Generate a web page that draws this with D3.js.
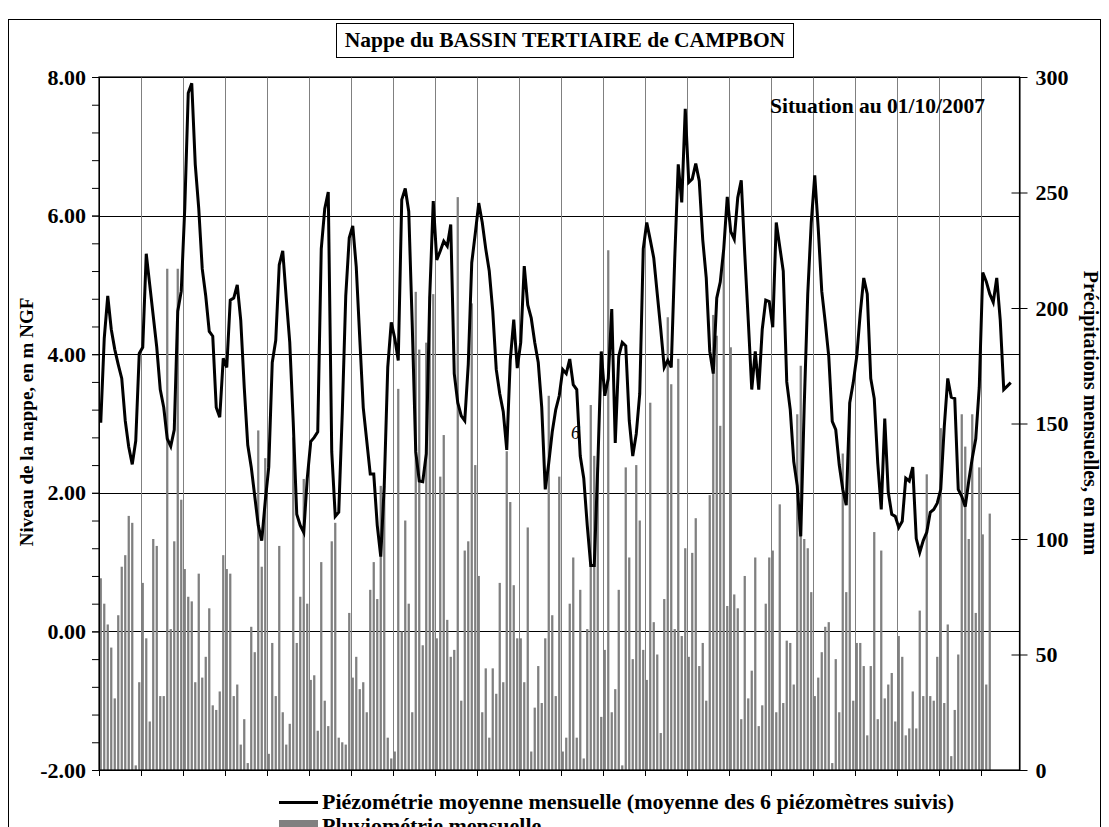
<!DOCTYPE html>
<html>
<head>
<meta charset="utf-8">
<script src="https://cdn.jsdelivr.net/npm/d3@7"></script>
<style>
  body { margin: 0; background: #fff; }
  svg { display: block; }
  text { font-family: "Liberation Serif", "Times New Roman", serif; font-weight: bold; fill: #000; }
</style>
</head>
<body>
<div id="graphe"></div>
<script>
// Données (piézométrie en m NGF, pluie en mm)
const titre = "Nappe du BASSIN TERTIAIRE de CAMPBON";
const situation = "Situation au 01/10/2007";
const legendeNiveau = "Piézométrie moyenne mensuelle (moyenne des 6 piézomètres suivis)";
const legendePluie = "Pluviométrie mensuelle";
const titreGauche = "Niveau de la nappe, en m NGF";
const titreDroite = "Précipitations mensuelles, en mm";

// Catégories : un mois par colonne, de janvier 1986 à novembre 2007
const debut = new Date(1986, 0, 1);
const mois = d3.timeMonth.range(debut, new Date(2007, 11, 1)).map(d3.timeFormat("%m/%Y"));

const niveaux = [
  3.01, 4.23, 4.84, 4.36, 4.07, 3.85, 3.65, 3.04, 2.66, 2.41,
  2.75, 4.01, 4.10, 5.45, 5.00, 4.55, 4.10, 3.49, 3.23, 2.78,
  2.67, 2.91, 4.62, 4.91, 6.10, 7.77, 7.91, 6.74, 6.10, 5.23,
  4.84, 4.33, 4.26, 3.23, 3.09, 3.94, 3.81, 4.78, 4.81, 5.00,
  4.49, 3.52, 2.69, 2.37, 1.95, 1.53, 1.31, 1.88, 2.37, 3.88,
  4.20, 5.29, 5.49, 4.81, 4.17, 3.01, 1.69, 1.53, 1.43, 2.21,
  2.74, 2.80, 2.88, 5.52, 6.10, 6.34, 2.59, 1.66, 1.72, 3.14,
  4.84, 5.68, 5.85, 5.26, 4.23, 3.23, 2.75, 2.27, 2.27, 1.53,
  1.08, 2.11, 3.81, 4.46, 4.23, 3.91, 6.23, 6.39, 6.06, 4.42,
  2.59, 2.17, 2.16, 2.56, 4.84, 6.21, 5.36, 5.49, 5.63, 5.56,
  5.87, 3.72, 3.30, 3.11, 3.04, 3.85, 5.32, 5.74, 6.18, 5.90,
  5.52, 5.20, 4.62, 3.78, 3.43, 3.17, 2.62, 3.91, 4.50, 3.80,
  4.17, 5.27, 4.71, 4.52, 4.17, 3.88, 3.23, 2.05, 2.43, 2.88,
  3.20, 3.40, 3.78, 3.72, 3.93, 3.56, 3.49, 2.53, 2.21, 1.53,
  0.95, 0.95, 2.37, 4.04, 3.40, 3.65, 4.65, 2.72, 3.97, 4.17,
  4.12, 3.04, 2.53, 2.85, 3.43, 5.52, 5.90, 5.65, 5.39, 4.87,
  4.36, 3.81, 3.91, 3.81, 5.39, 6.74, 6.19, 7.54, 6.48, 6.53,
  6.75, 6.50, 5.65, 5.10, 4.04, 3.72, 4.81, 5.04, 5.52, 6.27,
  5.77, 5.66, 6.26, 6.51, 5.45, 4.49, 3.49, 4.04, 3.49, 4.36,
  4.78, 4.76, 4.39, 5.90, 5.55, 5.20, 3.60, 3.20, 2.45, 2.10,
  1.37, 3.27, 4.87, 5.90, 6.58, 5.81, 4.91, 4.46, 3.97, 3.03,
  2.91, 2.40, 2.05, 1.82, 3.30, 3.59, 3.97, 4.59, 5.10, 4.87,
  3.65, 3.36, 2.43, 1.76, 3.07, 2.01, 1.69, 1.66, 1.50, 1.59,
  2.21, 2.17, 2.37, 1.34, 1.14, 1.31, 1.43, 1.72, 1.76, 1.85,
  2.05, 2.95, 3.65, 3.38, 3.36, 2.05, 1.95, 1.80, 2.17, 2.50,
  2.78, 3.52, 5.18, 5.05, 4.87, 4.75, 5.10, 4.49, 3.49, 3.54,
  3.59
];

const pluies = [
  83, 72, 63, 53, 31, 67, 88, 93, 110, 107,
  2, 38, 81, 57, 21, 100, 97, 32, 32, 217,
  61, 99, 217, 117, 87, 75, 73, 38, 85, 40,
  49, 70, 28, 26, 34, 93, 87, 85, 32, 37,
  11, 22, 3, 62, 51, 147, 88, 135, 7, 55,
  32, 97, 25, 11, 20, 144, 55, 75, 126, 72,
  39, 41, 17, 90, 30, 19, 99, 107, 14, 12,
  11, 68, 40, 49, 35, 38, 25, 78, 90, 74,
  123, 123, 14, 5, 8, 165, 60, 108, 72, 25,
  207, 182, 54, 185, 205, 206, 57, 127, 145, 65,
  49, 52, 248, 30, 95, 99, 202, 132, 84, 25,
  44, 14, 44, 33, 81, 38, 138, 116, 80, 57,
  57, 38, 105, 8, 27, 45, 29, 57, 162, 67,
  32, 127, 8, 14, 72, 92, 14, 78, 5, 61,
  158, 136, 131, 23, 52, 225, 25, 35, 78, 2,
  131, 92, 48, 132, 108, 52, 39, 159, 64, 50,
  16, 74, 196, 167, 61, 178, 58, 96, 49, 94,
  109, 45, 55, 30, 119, 197, 188, 149, 225, 71,
  183, 76, 70, 22, 84, 31, 43, 92, 19, 28,
  72, 92, 95, 25, 115, 29, 56, 55, 37, 154,
  175, 100, 96, 77, 32, 40, 51, 62, 64, 3,
  48, 25, 137, 77, 159, 30, 55, 55, 45, 15,
  45, 103, 22, 95, 31, 37, 42, 21, 58, 49,
  15, 18, 34, 18, 69, 32, 128, 32, 30, 49,
  148, 29, 63, 6, 26, 50, 154, 140, 100, 154,
  68, 131, 102, 37, 111
];

const ticksGauche = [-2, 0, 2, 4, 6, 8];
const ticksDroite = [0, 50, 100, 150, 200, 250, 300];

const largeur = 1109, hauteur = 827;
const zone = { gauche: 99, droite: 1019.5, haut: 77, bas: 770 };
const police = '"Liberation Serif", "Times New Roman", serif';

const svg = d3.select("#graphe").append("svg")
  .attr("width", largeur)
  .attr("height", hauteur);

svg.append("rect").attr("width", "100%").attr("height", "100%").attr("fill", "white");

// Cadre extérieur
svg.append("rect")
  .attr("x", 8.5).attr("y", 19.5)
  .attr("width", 1092).attr("height", 830)
  .attr("fill", "none").attr("stroke", "black").attr("stroke-width", 1);

// Echelles
const x = d3.scaleBand().domain(mois).range([zone.gauche, zone.droite]).paddingInner(0.35).paddingOuter(0.175);
const xLim = d3.scaleLinear().domain([0, mois.length]).range([zone.gauche, zone.droite]); // bords des catégories
const yG = d3.scaleLinear().domain([-2, 8]).range([zone.bas, zone.haut]);
const yD = d3.scaleLinear().domain([0, 300]).range([zone.bas, zone.haut]);

// Quadrillage horizontal (axe gauche)
svg.append("g")
  .selectAll("line").data(ticksGauche).join("line")
  .attr("x1", zone.gauche).attr("x2", zone.droite)
  .attr("y1", d => Math.round(yG(d)) + 0.5).attr("y2", d => Math.round(yG(d)) + 0.5)
  .attr("stroke", "black").attr("stroke-width", 1);

// Quadrillage vertical : un trait par année
const debutsAnnees = d3.range(12, mois.length, 12);
svg.append("g")
  .selectAll("line").data(debutsAnnees).join("line")
  .attr("x1", d => Math.round(xLim(d)) + 0.5).attr("x2", d => Math.round(xLim(d)) + 0.5)
  .attr("y1", zone.haut).attr("y2", zone.bas)
  .attr("stroke", "#808080").attr("stroke-width", 1);

// Barres de pluie
svg.append("g")
  .selectAll("rect").data(pluies).join("rect")
  .attr("x", (d, i) => x(mois[i]))
  .attr("width", x.bandwidth())
  .attr("y", d => yD(d))
  .attr("height", d => yD(0) - yD(d))
  .attr("fill", "#808080");

// Courbe piézométrique
const ligne = d3.line()
  .x((d, i) => x(mois[i]) + x.bandwidth() / 2)
  .y(d => yG(d));

svg.append("path")
  .datum(niveaux)
  .attr("d", ligne)
  .attr("fill", "none")
  .attr("stroke", "black")
  .attr("stroke-width", 3)
  .attr("stroke-linejoin", "miter");

// Cadre de la zone de tracé
svg.append("rect")
  .attr("x", zone.gauche).attr("y", zone.haut)
  .attr("width", zone.droite - zone.gauche).attr("height", zone.bas - zone.haut)
  .attr("fill", "none").attr("stroke", "black").attr("stroke-width", 1.2);

// Axe gauche : graduations principales et secondaires
const axeG = svg.append("g").attr("transform", `translate(${zone.gauche},0)`)
  .call(d3.axisLeft(yG).tickValues(ticksGauche).tickFormat(d => d.toFixed(2)).tickSizeInner(7).tickSizeOuter(0).tickPadding(6));
svg.append("g").attr("transform", `translate(${zone.gauche},0)`)
  .call(d3.axisLeft(yG).tickValues(d3.range(-2, 8.01, 0.4)).tickFormat("").tickSizeInner(7).tickSizeOuter(0))
  .select(".domain").remove();

// Axe droit : graduations qui traversent l'axe
const axeD = svg.append("g").attr("transform", `translate(${zone.droite},0)`)
  .call(d3.axisRight(yD).tickValues(ticksDroite).tickSizeInner(8).tickSizeOuter(0).tickPadding(8));
axeD.selectAll(".tick line").attr("x1", -8);

// Axe du bas : graduations aux débuts d'années, sans étiquettes
const axeB = svg.append("g").attr("transform", `translate(0,${zone.bas})`)
  .call(d3.axisBottom(xLim).tickValues(d3.range(0, mois.length, 12)).tickFormat("").tickSizeInner(6).tickSizeOuter(0));

[axeG, axeD, axeB].forEach(a => {
  a.attr("font-family", police).attr("font-size", 22);
  a.selectAll("text").style("font-family", police).style("font-size", "22px").style("font-weight", "bold");
  a.selectAll("line").attr("stroke", "black");
  a.select(".domain").attr("stroke", "black");
});

// Titres des axes
svg.append("text")
  .attr("transform", "translate(33,422) rotate(-90)")
  .attr("text-anchor", "middle")
  .style("font-size", "19px")
  .text(titreGauche);

svg.append("text")
  .attr("transform", "translate(1084,413) rotate(90)")
  .attr("text-anchor", "middle")
  .style("font-size", "20px")
  .text(titreDroite);

// Titre encadré
svg.append("rect")
  .attr("x", 336.5).attr("y", 23.5).attr("width", 457).attr("height", 34)
  .attr("fill", "white").attr("stroke", "black").attr("stroke-width", 1);
svg.append("text")
  .attr("x", 565).attr("y", 47)
  .attr("text-anchor", "middle")
  .style("font-size", "21.5px")
  .text(titre);

svg.append("text")
  .attr("x", 770).attr("y", 113)
  .style("font-size", "21.5px")
  .text(situation);

// Etiquette isolée restée sur la courbe
svg.append("text")
  .attr("x", 571).attr("y", 439)
  .style("font-size", "18px").style("font-weight", "normal").style("font-style", "italic")
  .text("6");

// Légende (la seconde ligne est coupée par le bas de l'image, comme sur l'original)
svg.append("line")
  .attr("x1", 279).attr("x2", 318).attr("y1", 802.5).attr("y2", 802.5)
  .attr("stroke", "black").attr("stroke-width", 3);
svg.append("text").attr("x", 322).attr("y", 809).style("font-size", "22px").text(legendeNiveau);

svg.append("rect")
  .attr("x", 279).attr("y", 820).attr("width", 39).attr("height", 10)
  .attr("fill", "#808080");
svg.append("text").attr("x", 322).attr("y", 833).style("font-size", "22px").text(legendePluie);
</script>
</body>
</html>
